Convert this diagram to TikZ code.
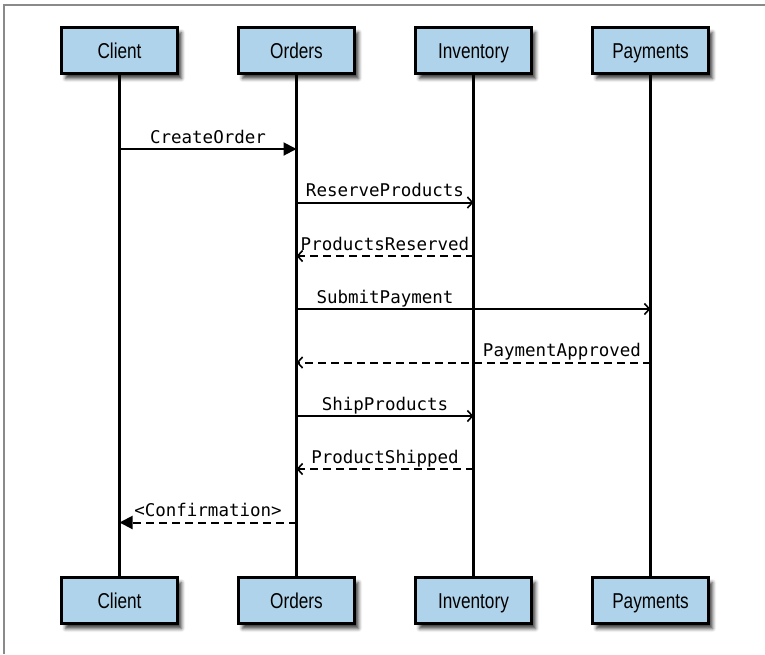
\documentclass[tikz,border=0pt]{standalone}
\usepackage{fontspec}
\newfontfamily\boxfont[FakeStretch=0.8]{Liberation Sans}
\setmonofont{DejaVu Sans Mono}
\usetikzlibrary{shadows.blur,arrows.meta}
\definecolor{boxblue}{HTML}{AFD3EA}
\definecolor{framegray}{HTML}{8A8A8A}

\begin{document}
\begin{tikzpicture}[x=1pt,y=-1pt,
  actor/.style={draw=black, line width=2.6pt, fill=boxblue,
    minimum width=116pt, minimum height=46pt, inner sep=0pt,
    text height=15pt, text depth=0pt, text=black,
    font=\boxfont\fontsize{21.5}{24}\selectfont,
    blur shadow={shadow xshift=4pt, shadow yshift=-5pt, shadow opacity=75, shadow blur radius=3.5pt}},
  lifeline/.style={line width=2.4pt},
  msg/.style={line width=2pt},
  call/.style={msg, -{Triangle[length=13pt,width=13pt]}},
  send/.style={msg, -{Straight Barb[length=5pt,width=11pt,line width=1.6pt]}},
  reply/.style={send, dash pattern=on 8pt off 5pt},
  result/.style={call, dash pattern=on 8pt off 5pt},
  lbl/.style={font=\ttfamily\fontsize{17.5}{20}\selectfont, anchor=base, inner sep=0pt, yshift=6pt}
]
\useasboundingbox (0,0) rectangle (765,654);

% page frame
\draw[framegray, line width=1.2pt] (4,654) -- (4,5) -- (765,5);

% participants, top and bottom
\foreach \name/\txt/\x in {cl/Client/119.5, or/Orders/296.5, in/Inventory/473.5, pa/Payments/650.5}{
  \node[actor] (\name top) at (\x,50.5) {\txt};
  \node[actor] (\name bot) at (\x,600.5) {\txt};
}

% lifelines
\foreach \name in {cl,or,in,pa}{
  \draw[lifeline] (\name top.south) -- (\name bot.north);
}

% message anchor points on the lifelines
\foreach \name/\x in {cl/119.5, or/296.5, in/473.5, pa/650.5}{
  \foreach \i/\y in {1/149, 2/202.5, 3/256, 4/309, 5/362.5, 6/416, 7/469, 8/522.5}{
    \coordinate (\name\i) at (\x,\y);
  }
}

% messages
\draw[call]   (cl1) -- node[lbl]{CreateOrder} (or1);
\draw[send]   (or2) -- node[lbl]{ReserveProducts} (in2);
\draw[reply]  (in3) -- node[lbl]{ProductsReserved} (or3);
\draw[send]   (or4) -- node[lbl, pos=0.25]{SubmitPayment} (pa4);
\draw[reply]  (pa5) -- node[lbl, pos=0.25]{PaymentApproved} (or5);
\draw[send]   (or6) -- node[lbl]{ShipProducts} (in6);
\draw[reply]  (in7) -- node[lbl]{ProductShipped} (or7);
\draw[result] (or8) -- node[lbl]{<Confirmation>} (cl8);
\end{tikzpicture}
\end{document}
